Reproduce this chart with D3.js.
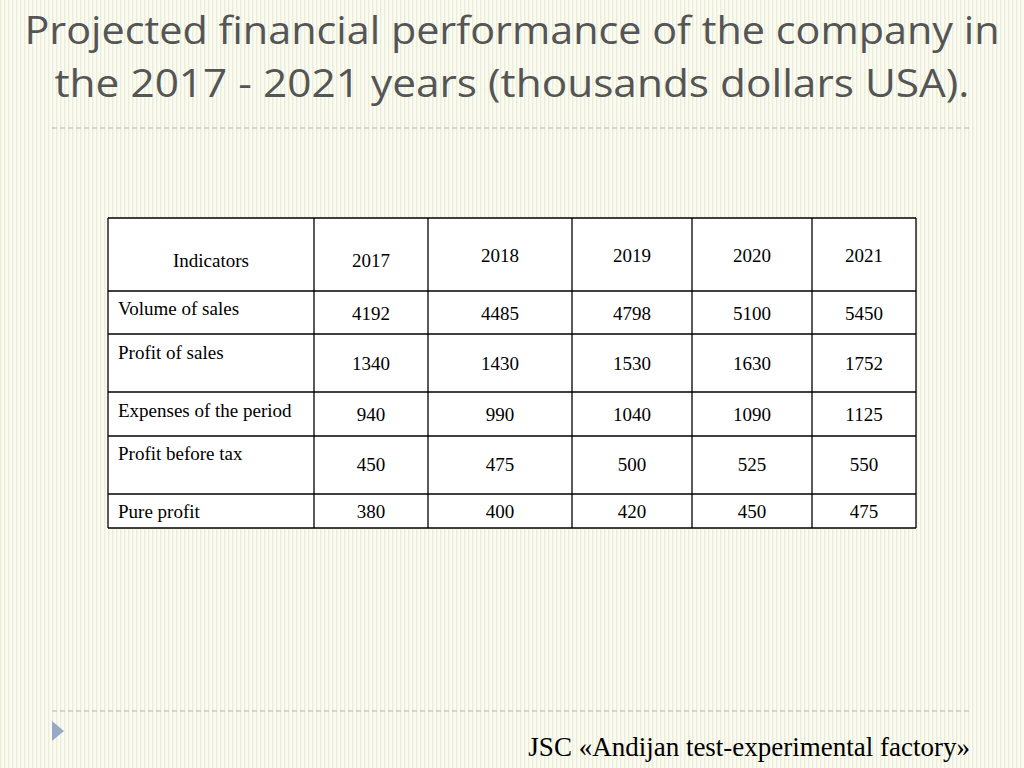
<!DOCTYPE html>
<html><head><meta charset="utf-8">
<script src="https://cdn.jsdelivr.net/npm/d3@7"></script>
<style>body{margin:0;}</style></head>
<body><svg id="c" width="1024" height="768"></svg>
<script>
const years = ["2017","2018","2019","2020","2021"];
const indicators = ["Volume of sales","Profit of sales","Expenses of the period","Profit before tax","Pure profit"];
const volumeOfSales = [4192,4485,4798,5100,5450];
const profitOfSales = [1340,1430,1530,1630,1752];
const expenses = [940,990,1040,1090,1125];
const profitBeforeTax = [450,475,500,525,550];
const pureProfit = [380,400,420,450,475];
const rows = [volumeOfSales, profitOfSales, expenses, profitBeforeTax, pureProfit];

const svg = d3.select("#c");
const defs = svg.append("defs");
const pat = defs.append("pattern").attr("id","st").attr("width",4).attr("height",4).attr("patternUnits","userSpaceOnUse");
pat.append("rect").attr("width",4).attr("height",4).attr("fill","#fcfcf4");
pat.append("rect").attr("width",1.5).attr("height",4).attr("fill","#ecefd8");
svg.append("rect").attr("width",1024).attr("height",768).attr("fill","url(#st)");

const tf = "'Open Sans', 'Noto Sans', sans-serif";
svg.append("text").attr("x",512).attr("y",44).attr("text-anchor","middle").attr("font-family",tf)
  .attr("font-size",38).attr("textLength",975).attr("lengthAdjust","spacingAndGlyphs")
  .attr("fill","#555").text("Projected financial performance of the company in");
svg.append("text").attr("x",512).attr("y",97).attr("text-anchor","middle").attr("font-family",tf)
  .attr("font-size",38).attr("textLength",915).attr("lengthAdjust","spacingAndGlyphs")
  .attr("fill","#555").text("the 2017 - 2021 years (thousands dollars USA).");
[128,711].forEach(y=>svg.append("line").attr("x1",52).attr("x2",972).attr("y1",y).attr("y2",y)
  .attr("stroke","#b4b4b4").attr("stroke-width",1).attr("stroke-dasharray","5,3"));
svg.append("path").attr("d","M52,721 L64,731 L52,741 Z").attr("fill","#97a9c6");
svg.append("text").attr("x",970).attr("y",756).attr("text-anchor","end").attr("font-family","'Liberation Serif', serif")
  .attr("font-size",27).attr("fill","#000").text("JSC «Andijan test-experimental factory»");

const colEdges = [108,314,428,572,692,812,916];
const rowEdges = [218,291,334,392,436,494,528];
const g = svg.append("g").attr("font-family","'Liberation Serif', serif").attr("font-size",19).attr("fill","#000");
g.append("rect").attr("x",colEdges[0]).attr("y",rowEdges[0]).attr("width",colEdges[6]-colEdges[0]).attr("height",rowEdges[6]-rowEdges[0]).attr("fill","#fff");
colEdges.forEach(x=>g.append("line").attr("x1",x).attr("x2",x).attr("y1",rowEdges[0]).attr("y2",rowEdges[6]).attr("stroke","#000").attr("stroke-width",1.3));
rowEdges.forEach(y=>g.append("line").attr("x1",colEdges[0]).attr("x2",colEdges[6]).attr("y1",y).attr("y2",y).attr("stroke","#000").attr("stroke-width",1.3));
const cx = i => (colEdges[i]+colEdges[i+1])/2;
g.append("text").attr("x",cx(0)).attr("y",267).attr("text-anchor","middle").text("Indicators");
const yearY = [267,262,262,262,262];
years.forEach((y,i)=>g.append("text").attr("x",cx(i+1)).attr("y",yearY[i]).attr("text-anchor","middle").text(y));
const labelY = [315,359,417,460,518];
const valY = [320,370,421,471,518];
indicators.forEach((lab,r)=>{
  g.append("text").attr("x",118).attr("y",labelY[r]).text(lab);
  rows[r].forEach((v,i)=>g.append("text").attr("x",cx(i+1)).attr("y",valY[r]).attr("text-anchor","middle").text(v));
});
</script></body></html>
